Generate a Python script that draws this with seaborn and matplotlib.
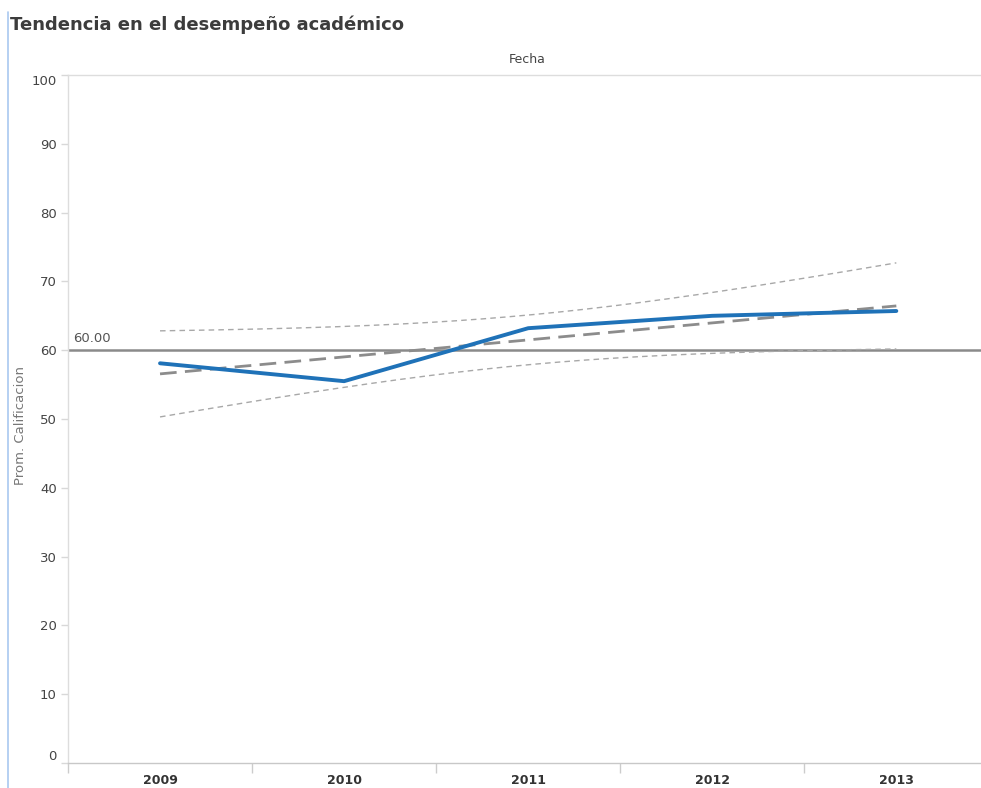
import numpy as np
import pandas as pd
import matplotlib
matplotlib.use("Agg")
import matplotlib.pyplot as plt
from matplotlib.lines import Line2D
import seaborn as sns

years = ["2009", "2010", "2011", "2012", "2013"]
avg_grade = [58.1, 55.5, 63.2, 65.0, 65.7]
reference_value = 60.0
y_ticks = [0, 10, 20, 30, 40, 50, 60, 70, 80, 90, 100]

sns.set_theme(style="white")
plt.rcParams["font.family"] = ["DejaVu Sans"]

df = pd.DataFrame({"idx": np.arange(len(years)), "Prom": avg_grade})

fig = plt.figure(figsize=(9.81, 7.88), dpi=100)
ax = fig.add_axes([0.0693, 0.0317, 0.9307, 0.8731])

# Linear trend with 95% confidence band of the fitted mean
x = df["idx"].to_numpy(dtype=float)
y = df["Prom"].to_numpy(dtype=float)
n = len(x)
slope, intercept = np.polyfit(x, y, 1)
resid = y - (intercept + slope * x)
s = np.sqrt(np.sum(resid ** 2) / (n - 2))
t_crit = 3.182  # t(0.975, df=3)
xs = np.linspace(x.min(), x.max(), 200)
fit = intercept + slope * xs
se = s * np.sqrt(1.0 / n + (xs - x.mean()) ** 2 / np.sum((x - x.mean()) ** 2))
trend = pd.DataFrame({"x": xs, "fit": fit, "lo": fit - t_crit * se, "hi": fit + t_crit * se})

ax.axhline(reference_value, color="#8a8a8a", lw=1.8, zorder=2)
ax.text(-0.47, reference_value + 0.8, f"{reference_value:.2f}", color="#555555",
        fontsize=9.5, ha="left", va="bottom")

for col in ["lo", "hi"]:
    sns.lineplot(data=trend, x="x", y=col, ax=ax, color="#a8a8a8", lw=1.0,
                 linestyle=(0, (4, 3)), zorder=3)
sns.lineplot(data=trend, x="x", y="fit", ax=ax, color="#8c8c8c", lw=2.0,
             linestyle=(0, (6, 3)), zorder=4)
sns.lineplot(data=df, x="idx", y="Prom", ax=ax, color="#1f72b8", lw=2.8, zorder=5)

ax.set_xlim(-0.5, 4.46)
ax.set_ylim(0, 100)
ax.set_xticks(range(len(years)))
ax.set_xticklabels(years, fontweight="bold", fontsize=9, color="#333333")
ax.set_xticks(np.arange(-0.5, 4.0, 1.0), minor=True)
ax.tick_params(axis="x", which="major", length=0, pad=8, bottom=True)
ax.tick_params(axis="x", which="minor", length=7, color="#cccccc", width=1,
               direction="out", bottom=True)
ax.set_yticks(y_ticks)
ax.set_yticklabels([str(v) for v in y_ticks], fontsize=9.5, color="#444444")
ax.tick_params(axis="y", length=5, color="#d8d8d8", width=1, direction="out", pad=3,
               left=True)
ylabs = ax.get_yticklabels()
ylabs[0].set_va("bottom")
ylabs[-1].set_va("top")

ax.set_xlabel("")
ax.set_ylabel("Prom. Calificacion", fontsize=9.5, color="#777777", va="center")
ax.yaxis.set_label_coords(-0.052, 0.49)

for side in ["left", "top"]:
    ax.spines[side].set_color("#dddddd")
    ax.spines[side].set_linewidth(1.0)
ax.spines["bottom"].set_color("#c8c8c8")
ax.spines["bottom"].set_linewidth(1.0)
ax.spines["right"].set_visible(False)
ax.grid(False)

fig.text(0.0102, 0.968, "Tendencia en el desempeño académico", fontsize=13,
         fontweight="bold", color="#3c3c3c", ha="left", va="center")
fig.text(0.537, 0.924, "Fecha", fontsize=9, color="#444444", ha="center", va="center")
fig.add_artist(Line2D([0.0082, 0.0082], [0.0, 0.985], color="#a9c8f0", lw=1.2,
                      transform=fig.transFigure))

fig.savefig("out.png", dpi=100)
